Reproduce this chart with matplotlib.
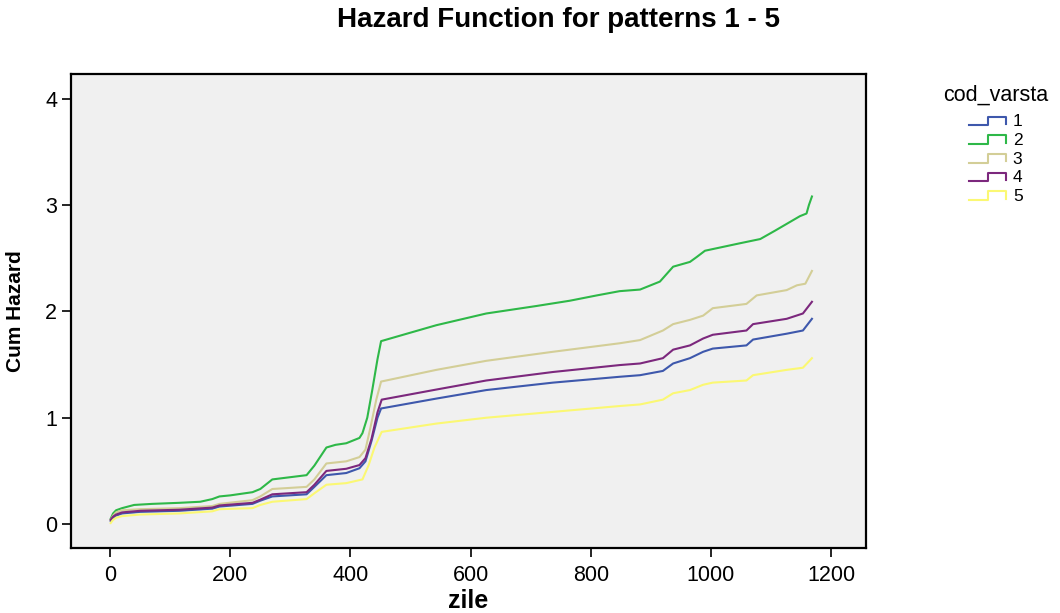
import matplotlib
matplotlib.use("Agg")
import matplotlib.pyplot as plt
from matplotlib.lines import Line2D
from matplotlib.legend_handler import HandlerBase

# cumulative hazard, one series per age group (cod_varsta)
x_1 = [1, 5, 10, 20, 50, 115, 170, 182, 237, 250, 270, 327, 340, 360, 393, 415, 425, 435, 445, 451,
       543, 626, 737, 848, 882, 920, 937, 965, 987, 1003, 1059, 1070, 1126, 1153, 1168]
y_1 = [0.03, 0.06, 0.08, 0.10, 0.115, 0.125, 0.145, 0.165, 0.19, 0.22, 0.26, 0.28, 0.35, 0.46, 0.48,
       0.525, 0.59, 0.78, 1.0, 1.087, 1.18, 1.26, 1.33, 1.385, 1.40, 1.44, 1.51, 1.56, 1.62, 1.65,
       1.68, 1.735, 1.79, 1.82, 1.93]

x_2 = [1, 5, 10, 20, 40, 70, 115, 150, 170, 182, 200, 237, 250, 270, 327, 340, 360, 375, 393, 415,
       420, 428, 436, 445, 451, 500, 543, 626, 709, 765, 810, 848, 882, 915, 937, 965, 976, 990,
       1048, 1082, 1107, 1148, 1159, 1163, 1168]
y_2 = [0.05, 0.10, 0.13, 0.15, 0.18, 0.19, 0.20, 0.21, 0.235, 0.26, 0.27, 0.30, 0.33, 0.42, 0.46,
       0.55, 0.72, 0.745, 0.76, 0.81, 0.855, 1.0, 1.25, 1.55, 1.72, 1.80, 1.87, 1.98, 2.05, 2.10,
       2.15, 2.19, 2.205, 2.28, 2.42, 2.465, 2.51, 2.57, 2.64, 2.68, 2.76, 2.895, 2.92, 3.0, 3.08]

x_3 = [1, 5, 10, 20, 50, 115, 170, 182, 237, 250, 270, 327, 340, 360, 393, 415, 425, 433, 443, 451,
       543, 626, 737, 848, 882, 920, 937, 965, 987, 1003, 1059, 1076, 1126, 1143, 1157, 1168]
y_3 = [0.04, 0.08, 0.11, 0.13, 0.14, 0.15, 0.17, 0.19, 0.225, 0.26, 0.33, 0.35, 0.42, 0.57, 0.59,
       0.63, 0.70, 0.90, 1.17, 1.34, 1.45, 1.535, 1.62, 1.70, 1.73, 1.82, 1.88, 1.92, 1.96, 2.03,
       2.07, 2.15, 2.20, 2.245, 2.26, 2.38]

x_4 = [1, 5, 10, 20, 50, 115, 170, 182, 237, 250, 270, 327, 340, 360, 393, 415, 425, 435, 445, 452,
       543, 626, 737, 848, 882, 920, 937, 965, 987, 1003, 1059, 1070, 1126, 1153, 1168]
y_4 = [0.04, 0.07, 0.09, 0.11, 0.125, 0.135, 0.155, 0.175, 0.20, 0.23, 0.28, 0.30, 0.37, 0.50, 0.52,
       0.555, 0.62, 0.80, 1.05, 1.17, 1.265, 1.35, 1.43, 1.495, 1.51, 1.56, 1.64, 1.68, 1.745, 1.78,
       1.82, 1.88, 1.93, 1.98, 2.09]

x_5 = [1, 5, 10, 20, 50, 115, 170, 182, 237, 250, 270, 327, 340, 360, 393, 420, 430, 440, 452,
       543, 626, 737, 848, 882, 920, 937, 965, 987, 1003, 1059, 1070, 1126, 1153, 1168]
y_5 = [0.01, 0.04, 0.06, 0.075, 0.09, 0.10, 0.12, 0.14, 0.15, 0.18, 0.21, 0.235, 0.29, 0.37, 0.385,
       0.42, 0.55, 0.72, 0.867, 0.945, 1.0, 1.055, 1.11, 1.125, 1.17, 1.23, 1.26, 1.31, 1.33, 1.35,
       1.40, 1.45, 1.47, 1.56]

labels = ['1', '2', '3', '4', '5']
colors = ['#3e58ac', '#2eb848', '#d3ce97', '#7c287d', '#fbf873']
series = [(x_1, y_1), (x_2, y_2), (x_3, y_3), (x_4, y_4), (x_5, y_5)]


class StepHandler(HandlerBase):
    # SPSS style step icon in the legend
    def create_artists(self, legend, orig_handle, xdescent, ydescent, width, height, fontsize, trans):
        x0, y0 = -xdescent, -ydescent
        lo, hi = y0 + 0.1 * height, y0 + 0.8 * height
        xs = [x0, x0 + 0.5 * width, x0 + 0.5 * width, x0 + width, x0 + width]
        ys = [lo, lo, hi, hi, lo + 0.1 * height]
        l = Line2D(xs, ys, color=orig_handle.get_color(), lw=orig_handle.get_linewidth(), transform=trans)
        return [l]


plt.rcParams['font.family'] = ['Liberation Sans', 'DejaVu Sans']

fig = plt.figure(figsize=(10.6, 6.13), dpi=100)
ax = fig.add_axes([0.067, 0.106, 0.75, 0.773])
ax.set_facecolor('#f0f0f0')

handles = []
for (xs, ys), c, lab in zip(series, colors, labels):
    h, = ax.plot(xs, ys, color=c, lw=1.5, label=lab)
    handles.append(h)

ax.set_xlim(-65, 1258)
ax.set_ylim(-0.225, 4.23)
ax.set_xticks(range(0, 1201, 200))
ax.set_yticks([0, 1, 2, 3, 4])
ax.tick_params(direction='out', length=6.5, width=1.2, labelsize=15.5, pad=3.5)
ax.tick_params(axis='x', pad=6)
for s in ax.spines.values():
    s.set_linewidth(1.6)

ax.set_xlabel('zile', fontsize=18, fontweight='bold', va='center')
ax.xaxis.set_label_coords(0.5, -0.112)
ax.set_ylabel('Cum Hazard', fontsize=15, fontweight='bold')
ax.yaxis.set_label_coords(-0.058, 0.5)

fig.text(0.527, 0.967, 'Hazard Function for patterns 1 - 5', ha='center', va='center',
         fontsize=20, fontweight='bold')

leg = fig.legend(handles=handles, labels=labels, title='cod_varsta', loc='upper center',
                 bbox_to_anchor=(996 / 1060, 528 / 613), frameon=False, fontsize=12.5,
                 title_fontsize=15.5, handlelength=2.1, handletextpad=0.4, labelspacing=0.2,
                 borderpad=0, borderaxespad=0, handler_map={Line2D: StepHandler()})
leg._legend_box.sep = 6

fig.savefig('out.png', dpi=100)
